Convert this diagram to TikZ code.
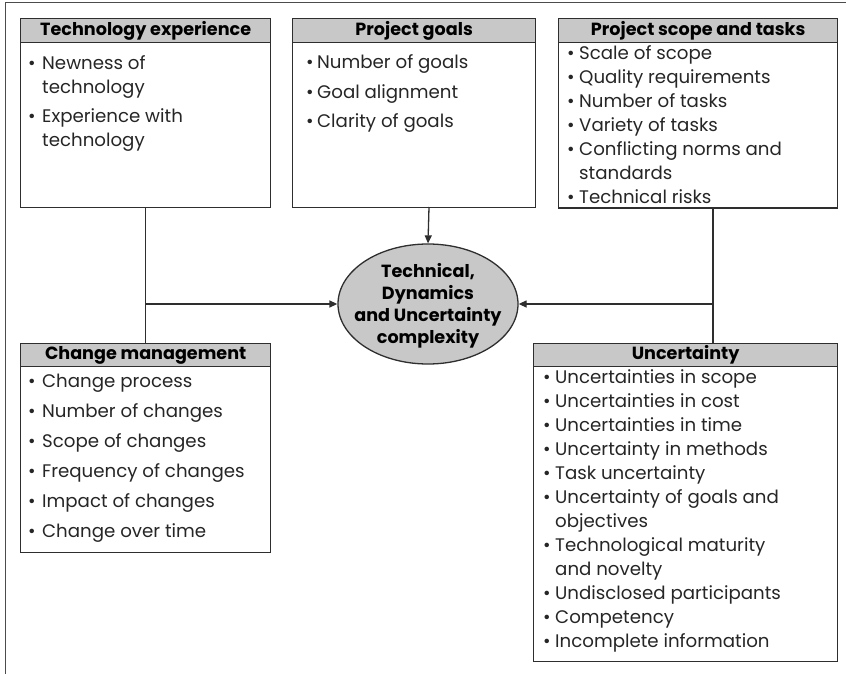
\documentclass[tikz,border=0pt]{standalone}
\usepackage{fontspec}
\setmainfont{Poppins}
\usetikzlibrary{arrows.meta,shapes.geometric}
\definecolor{hdrgray}{HTML}{C8C8C8}
\definecolor{ln}{HTML}{2E2E2E}
\newcommand{\bl}[1]{\makebox[#1][l]{•}}
\begin{document}
\begin{tikzpicture}[x=1pt,y=-1pt,
  box/.style={draw=ln,line width=1.3pt,fill=white,inner sep=0pt,anchor=north west},
  hdr/.style={draw=ln,line width=1.3pt,fill=hdrgray,inner sep=0pt,anchor=north west,
    minimum height=24pt,font=\bfseries\fontsize{17.6}{18}\selectfont},
  body/.style={inner sep=0pt,anchor=base west,font=\fontsize{18.2}{24}\selectfont,text=black!85},
  conn/.style={draw=ln,line width=1.3pt},
  arr/.style={conn,-{Triangle[length=8pt,width=7pt]}},
  frame/.style={draw=black!70,line width=1pt}]
\useasboundingbox (0,0) rectangle (846,674);
% outer frame (top and left edges)
\coordinate (f1) at (5,674);
\coordinate (f2) at (5,3);
\coordinate (f3) at (846,3);
\draw[frame] (f1) -- (f2) -- (f3);

% central ellipse
\node[ellipse,draw=ln,line width=1.3pt,fill=hdrgray,minimum width=180pt,minimum height=120pt,inner sep=0pt] (ell) at (428,304) {};
\node[align=center,font=\bfseries\fontsize{17.6}{22}\selectfont,inner sep=0pt] (ellt) at (428,306) {Technical,\\Dynamics\\and Uncertainty\\complexity};

% Technology experience
\node[box,minimum width=250pt,minimum height=189pt] (te) at (20,18) {};
\node[hdr,minimum width=250pt] (teh) at (20,18) {Technology experience};
\node[body] (teb) at (28,70) {\parbox[t]{240pt}{\raggedright
  \bl{14pt}Newness of\\\hspace*{14pt}technology\\[5pt]
  \bl{14pt}Experience with\\\hspace*{14pt}technology}};

% Project goals
\node[box,minimum width=243pt,minimum height=189pt] (pg) at (292,18) {};
\node[hdr,minimum width=243pt] (pgh) at (292,18) {Project goals};
\node[body] (pgb) at (306,69) {\parbox[t]{230pt}{\raggedright
  \bl{11pt}Number of goals\\[5.5pt]
  \bl{11pt}Goal alignment\\[5.5pt]
  \bl{11pt}Clarity of goals}};

% Project scope and tasks
\node[box,minimum width=279pt,minimum height=189pt] (ps) at (558,18) {};
\node[hdr,minimum width=279pt] (psh) at (558,18) {Project scope and tasks};
\node[body] (psb) at (567,60) {\parbox[t]{270pt}{\raggedright
  \bl{12pt}Scale of scope\\
  \bl{12pt}Quality requirements\\
  \bl{12pt}Number of tasks\\
  \bl{12pt}Variety of tasks\\
  \bl{12pt}Conflicting norms and\\\hspace*{12pt}standards\\
  \bl{12pt}Technical risks}};
\draw[draw=ln,line width=1.3pt] (ps.south west) -- (ps.south east);

% Change management
\node[box,minimum width=250pt,minimum height=209pt] (cm) at (20,343) {};
\node[hdr,minimum width=250pt,minimum height=23pt] (cmh) at (20,343) {Change management};
\node[body] (cmb) at (28,387) {\parbox[t]{240pt}{\raggedright
  \bl{14pt}Change process\\[6pt]
  \bl{14pt}Number of changes\\[6pt]
  \bl{14pt}Scope of changes\\[6pt]
  \bl{14pt}Frequency of changes\\[6pt]
  \bl{14pt}Impact of changes\\[6pt]
  \bl{14pt}Change over time}};

% Uncertainty
\node[box,minimum width=304pt,minimum height=318pt] (un) at (533,343) {};
\node[hdr,minimum width=304pt,minimum height=23pt] (unh) at (533,343) {Uncertainty};
\node[body] (unb) at (543,383) {\parbox[t]{290pt}{\raggedright
  \bl{12pt}Uncertainties in scope\\
  \bl{12pt}Uncertainties in cost\\
  \bl{12pt}Uncertainties in time\\
  \bl{12pt}Uncertainty in methods\\
  \bl{12pt}Task uncertainty\\
  \bl{12pt}Uncertainty of goals and\\\hspace*{12pt}objectives\\
  \bl{12pt}Technological maturity\\\hspace*{12pt}and novelty\\
  \bl{12pt}Undisclosed participants\\
  \bl{12pt}Competency\\
  \bl{12pt}Incomplete information}};

% connectors
\coordinate (jl) at (ell.west -| te.south);
\coordinate (jr) at (713,304);
\coordinate (rt) at (713,207);
\coordinate (rb) at (713,343);
\coordinate (pgout) at (429,207);
\draw[conn] (te.south) -- (cm.north);
\draw[arr] (jl) -- (ell.west);
\draw[arr] (pgout) -- (ell.north);
\draw[conn] (rt) -- (rb);
\draw[arr] (jr) -- (ell.east);
\end{tikzpicture}
\end{document}
